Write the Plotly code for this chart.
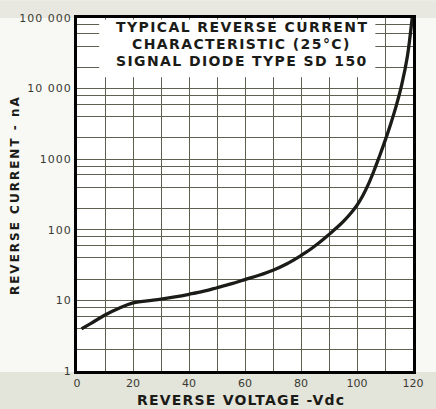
import plotly.graph_objects as go

# Reverse voltage (Vdc) and typical reverse current (nA) for the SD 150 signal diode
voltage = [1.6, 5, 10, 15, 20, 25, 30, 35, 40, 45, 50, 55, 60, 65, 70, 75, 80,
           82, 84, 86, 88, 90, 92, 94, 96, 98, 100, 102, 104, 106, 108, 110, 112, 114,
           116, 118, 119.7]
current = [3.95, 4.73, 6.21, 7.73, 9.23, 9.84, 10.4, 11.2, 12.2, 13.4, 15.1, 17.1, 19.7,
           22.7, 26.8, 33.1, 43.2,
           48.6, 55.3, 63.5, 73.6, 86.1, 100.7, 118.9, 142.9, 175.8, 223, 301, 436, 675,
           1094, 1816, 3126, 5689, 11460, 28770, 100000]

# Axis ticks: grid every 10 V, labels every 20 V
x_ticks = list(range(0, 121, 10))
x_labels = [str(v) if v % 20 == 0 else "" for v in x_ticks]

# Log grid at 1, 2, 4, 6, 8 of every decade; labels on the decades
decades = [1, 10, 100, 1000, 10000]
y_ticks = []
for d in decades:
    y_ticks += [d, 2 * d, 4 * d, 6 * d, 8 * d]
y_ticks.append(100000)
decade_labels = {1: "1", 10: "10", 100: "100", 1000: "1000", 10000: "10 000", 100000: "100 000"}
y_labels = [decade_labels.get(v, "") for v in y_ticks]

title_lines = ["TYPICAL REVERSE CURRENT", "CHARACTERISTIC (25°C)", "SIGNAL DIODE TYPE SD 150"]
x_title = "REVERSE VOLTAGE -Vdc"
y_title = "REVERSE CURRENT - nA"

INK = "#1b1b17"
GRID = "#5f604f"
FONT = "DejaVu Sans"


def spaced(text, px):
    """Wrap text in a span with extra letter spacing (lettering-stencil look)."""
    return f'<span style="letter-spacing:{px}px">{text}</span>'


fig = go.Figure()
fig.add_trace(go.Scatter(
    x=voltage, y=current, mode="lines",
    line=dict(color=INK, width=3.3, shape="spline", smoothing=1.0),
    hoverinfo="skip", showlegend=False,
))

# Light scan-tone bands at top and bottom of the sheet
fig.add_shape(type="rect", xref="paper", yref="paper", x0=-0.3, x1=1.1, y0=-0.2, y1=-0.003,
              fillcolor="#e3e4da", line_width=0, layer="below")
fig.add_shape(type="rect", xref="paper", yref="paper", x0=-0.3, x1=1.1, y0=1.0, y1=1.05,
              fillcolor="#e8e8e1", line_width=0, layer="below")

# White panel holding the chart caption
fig.add_shape(type="rect", xref="paper", yref="paper", x0=0.066, x1=0.888, y0=0.832, y1=0.996,
              fillcolor="white", line_width=0, layer="above")
for text, ypos in zip(title_lines, [0.975, 0.926, 0.879]):
    fig.add_annotation(text="<b>" + spaced(text, 1.4) + "</b>", xref="paper", yref="paper",
                       x=0.49, y=ypos, showarrow=False,
                       font=dict(family=FONT, size=14, color=INK),
                       xanchor="center", yanchor="middle")

fig.add_annotation(text="<b>" + spaced(x_title, 1.2) + "</b>", xref="paper", yref="paper",
                   x=0.487, y=-0.082, showarrow=False,
                   font=dict(family=FONT, size=14, color=INK),
                   xanchor="center", yanchor="middle")
fig.add_annotation(text="<b>" + spaced(y_title, 2) + "</b>", xref="paper", yref="paper",
                   x=-0.186, y=0.497, textangle=-90, showarrow=False,
                   font=dict(family=FONT, size=12, color=INK),
                   xanchor="center", yanchor="middle")

fig.update_xaxes(
    range=[0, 120], tickvals=x_ticks, ticktext=x_labels, ticks="",
    showgrid=True, gridcolor=GRID, gridwidth=1.1, zeroline=False,
    showline=True, linecolor="black", linewidth=3, mirror=True,
    tickfont=dict(family=FONT, size=11, color="#3a3a33"),
)
fig.update_yaxes(
    type="log", range=[0, 5], tickvals=y_ticks, ticktext=[spaced(t, 1) if t else "" for t in y_labels],
    ticks="", showgrid=True, gridcolor=GRID, gridwidth=1.1, zeroline=False,
    showline=True, linecolor="black", linewidth=3, mirror=True,
    tickfont=dict(family=FONT, size=11, color="#3a3a33"),
)

fig.update_layout(
    width=436, height=409,
    margin=dict(l=77, r=12, t=13, b=38),
    paper_bgcolor="#f8f8f4", plot_bgcolor="white",
    showlegend=False,
)

fig.write_html("out.html")
